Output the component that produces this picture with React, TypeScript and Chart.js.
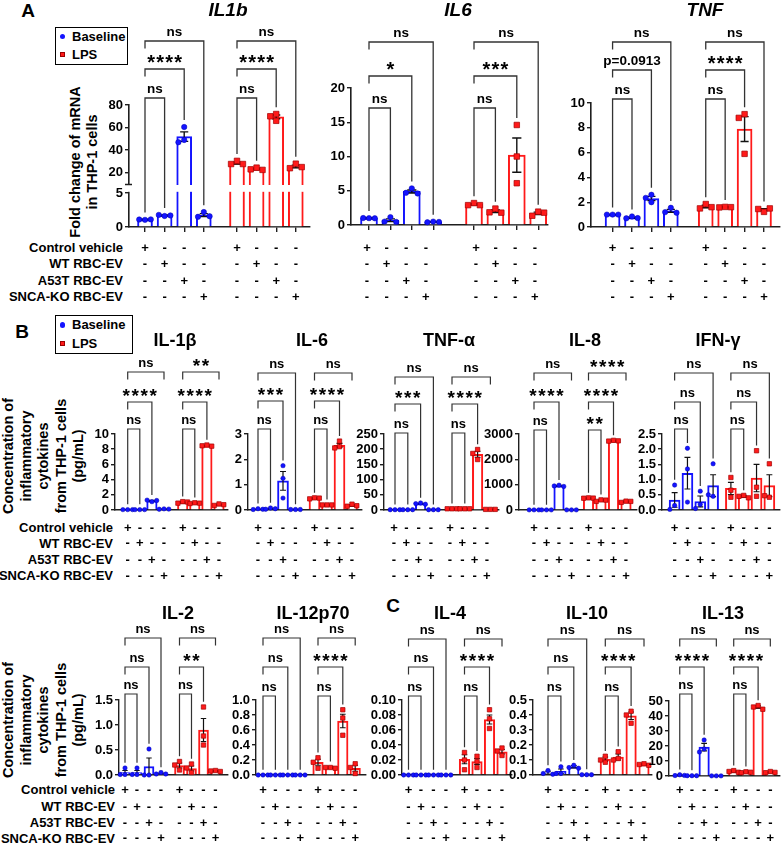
import React, { useEffect, useRef } from 'react';
import { Chart, registerables, LinearScale } from 'chart.js';

Chart.register(...registerables);

const FONT = '"Liberation Sans", Arial, Helvetica, sans-serif';
const BLUE = '#1414ff';
const RED = '#ff1a1a';
const INK = '#1e1e1e';

const TREATMENTS = ['Control vehicle', 'WT RBC-EV', 'A53T RBC-EV', 'SNCA-KO RBC-EV'];
const GROUPS = ['Baseline', 'LPS'];

// ---------- Panel A (order: Baseline x4, LPS x4) ----------
const A_IL1B_MEAN = [1.1, 1.7, 52, 1.75, 28.5, 23.5, 69.5, 25.5];
const A_IL1B_SEM = [0.03, 0.06, 4.2, 0.22, 0.9, 0.6, 1.7, 1.2];
const A_IL1B_PTS = [[1.05, 1.1, 1.12], [1.62, 1.78, 1.7], [60.5, 49, 47], [2.2, 1.5, 1.58], [30.5, 27.7, 27.7], [24.5, 23, 22.5], [72, 70, 66], [28, 24, 25]];
const A_IL1B_SIG = ['ns', '****', 'ns', 'ns', '****', 'ns'];
const A_IL1B_TICKS = [0, 5, 20, 40, 60, 80];

const A_IL6_MEAN = [1.0, 0.7, 4.9, 0.45, 3.0, 2.0, 10.2, 1.7];
const A_IL6_SEM = [0.05, 0.2, 0.22, 0.05, 0.1, 0.2, 2.5, 0.18];
const A_IL6_PTS = [[1.0, 1.02, 0.98], [1.15, 0.5, 0.45], [5.35, 4.7, 4.6], [0.5, 0.4, 0.45], [3.2, 2.9, 2.9], [2.4, 1.85, 1.8], [14.6, 10.0, 6.1], [1.95, 1.35, 1.8]];
const A_IL6_SIG = ['ns', '*', 'ns', 'ns', '***', 'ns'];
const A_IL6_TICKS = [0, 5, 10, 15, 20];

const A_TNF_MEAN = [1.0, 0.75, 2.3, 1.3, 1.65, 1.6, 7.9, 1.4];
const A_TNF_SEM = [0.02, 0.05, 0.17, 0.12, 0.1, 0.03, 1.0, 0.08];
const A_TNF_PTS = [[1.0, 1.0, 1.0], [0.85, 0.7, 0.72], [2.6, 2.35, 2.0], [1.55, 1.2, 1.15], [1.85, 1.5, 1.6], [1.62, 1.58, 1.6], [9.1, 8.8, 5.9], [1.22, 1.45, 1.5]];
const A_TNF_SIG = ['ns', 'p=0.0913', 'ns', 'ns', '****', 'ns'];
const A_TNF_TICKS = [0, 2, 4, 6, 8, 10];

// ---------- Panel B ----------
const B_IL1B_MEAN = [0.05, 0.05, 1.2, 0.12, 1.0, 0.9, 8.45, 0.7];
const B_IL1B_SEM = [0.01, 0.01, 0.06, 0.02, 0.07, 0.05, 0.06, 0.06];
const B_IL1B_PTS = [[0.05, 0.05, 0.05], [0.05, 0.05, 0.05], [1.1, 1.3, 1.25], [0.15, 0.1, 0.12], [1.1, 0.9, 1.05], [0.95, 0.85, 0.9], [8.55, 8.45, 8.4], [0.8, 0.6, 0.7]];
const B_IL1B_SIG = ['ns', '****', 'ns', '**', '****', 'ns'];
const B_IL1B_TICKS = [0, 2, 4, 6, 8, 10];

const B_IL6_MEAN = [0.03, 0.05, 1.15, 0.02, 0.46, 0.2, 2.55, 0.18];
const B_IL6_SEM = [0.01, 0.02, 0.37, 0.005, 0.02, 0.01, 0.08, 0.03];
const B_IL6_PTS = [[0.05, 0.02, 0.03], [0.08, 0.03, 0.05], [1.75, 1.25, 0.47], [0.02, 0.02, 0.02], [0.48, 0.44, 0.47], [0.2, 0.2, 0.2], [2.72, 2.5, 2.45], [0.23, 0.15, 0.17]];
const B_IL6_SIG = ['ns', '***', 'ns', 'ns', '****', 'ns'];
const B_IL6_TICKS = [0, 1, 2, 3];

const B_TNFA_MEAN = [1, 1, 21, 1, 4, 4, 183, 2];
const B_TNFA_SEM = [0.2, 0.2, 1.2, 0.2, 0.3, 0.3, 10, 0.2];
const B_TNFA_PTS = [[1, 1, 1], [1, 1, 1], [23, 21, 19], [1, 1, 1], [4, 4, 4], [4, 4, 4], [199, 186, 166], [2, 2, 2]];
const B_TNFA_SIG = ['ns', '***', 'ns', 'ns', '****', 'ns'];
const B_TNFA_TICKS = [0, 50, 100, 150, 200, 250];

const B_IL8_MEAN = [5, 5, 950, 5, 470, 380, 2730, 330];
const B_IL8_SEM = [1, 1, 20, 1, 10, 25, 15, 20];
const B_IL8_PTS = [[5, 5, 5], [5, 5, 5], [980, 950, 930], [5, 5, 5], [480, 465, 470], [400, 340, 390], [2750, 2720, 2730], [350, 300, 340]];
const B_IL8_SIG = ['ns', '****', 'ns', '****', '****', '**'];
const B_IL8_TICKS = [0, 1000, 2000, 3000];

const B_IFNG_MEAN = [0.33, 1.21, 0.28, 0.8, 0.71, 0.45, 1.05, 0.8];
const B_IFNG_SEM = [0.24, 0.52, 0.18, 0.36, 0.2, 0.03, 0.45, 0.36];
const B_IFNG_PTS = [[0.82, 0.15, 0.02], [2.03, 1.35, 0.26], [0.62, 0.18, 0.05], [1.52, 0.45, 0.5], [1.07, 0.65, 0.42], [0.48, 0.45, 0.4], [1.95, 0.75, 0.45], [1.52, 0.42, 0.47]];
const B_IFNG_SIG = ['ns', 'ns', 'ns', 'ns', 'ns', 'ns'];
const B_IFNG_TICKS = [0, 0.5, 1, 1.5, 2, 2.5];

const B_IL2_MEAN = [0.05, 0.05, 0.17, 0.03, 0.19, 0.13, 0.9, 0.08];
const B_IL2_SEM = [0.04, 0.04, 0.17, 0.01, 0.05, 0.05, 0.23, 0.01];
const B_IL2_PTS = [[0.14, 0.01, 0.01], [0.14, 0.01, 0.01], [0.52, 0.0, 0.0], [0.05, 0.02, 0.02], [0.27, 0.2, 0.1], [0.22, 0.14, 0.05], [1.36, 0.78, 0.6], [0.09, 0.08, 0.07]];
const B_IL2_SIG = ['ns', 'ns', 'ns', 'ns', '**', 'ns'];
const B_IL2_TICKS = [0, 0.5, 1, 1.5];

const B_IL12_MEAN = [0, 0, 0, 0, 0.17, 0.1, 0.72, 0.09];
const B_IL12_SEM = [0, 0, 0, 0, 0.04, 0.01, 0.09, 0.04];
const B_IL12_PTS = [[0, 0, 0], [0, 0, 0], [0, 0, 0], [0, 0, 0], [0.23, 0.17, 0.09], [0.1, 0.1, 0.09], [0.87, 0.76, 0.53], [0.15, 0.1, 0.02]];
const B_IL12_SIG = ['ns', 'ns', 'ns', 'ns', '****', 'ns'];
const B_IL12_TICKS = [0, 0.2, 0.4, 0.6, 0.8, 1.0];

// ---------- Panel C ----------
const C_IL4_MEAN = [0, 0, 0, 0, 0.021, 0.018, 0.074, 0.031];
const C_IL4_SEM = [0, 0, 0, 0, 0.006, 0.004, 0.006, 0.003];
const C_IL4_PTS = [[0, 0, 0], [0, 0, 0], [0, 0, 0], [0, 0, 0], [0.03, 0.02, 0.007], [0.025, 0.018, 0.01], [0.087, 0.075, 0.062], [0.036, 0.032, 0.026]];
const C_IL4_SIG = ['ns', 'ns', 'ns', 'ns', '****', 'ns'];
const C_IL4_TICKS = [0, 0.02, 0.04, 0.06, 0.08, 0.1];

const C_IL10_MEAN = [0.015, 0.025, 0.055, 0.002, 0.105, 0.12, 0.395, 0.07];
const C_IL10_SEM = [0.01, 0.015, 0.008, 0.001, 0.015, 0.02, 0.025, 0.004];
const C_IL10_PTS = [[0.03, 0.01, 0.005], [0.055, 0.01, 0.01], [0.065, 0.05, 0.045], [0.002, 0.002, 0.002], [0.125, 0.1, 0.085], [0.155, 0.11, 0.1], [0.425, 0.4, 0.345], [0.075, 0.07, 0.065]];
const C_IL10_SIG = ['ns', 'ns', 'ns', 'ns', '****', 'ns'];
const C_IL10_TICKS = [0, 0.1, 0.2, 0.3, 0.4, 0.5];

const C_IL13_MEAN = [0.5, 0.2, 19.3, 0.1, 3, 2.5, 46, 2.5];
const C_IL13_SEM = [0.2, 0.1, 2.5, 0.05, 0.4, 0.3, 0.8, 0.3];
const C_IL13_PTS = [[0.8, 0.3, 0.4], [0.2, 0.2, 0.2], [24, 18, 16], [0.1, 0.1, 0.1], [3.6, 3, 2.5], [2.8, 2.2, 2.5], [47, 46, 44.5], [3, 2.2, 2.4]];
const C_IL13_SIG = ['ns', '****', 'ns', 'ns', '****', 'ns'];
const C_IL13_TICKS = [0, 10, 20, 30, 40, 50];

// ---------- broken y axis for IL1b ----------
const IL1B_BREAK = { lo: 5, hi: 10, max: 80, fLo: 34 / 122, fGap: 9 / 122 };
function brokenFrac(v: number) {
  const b = IL1B_BREAK;
  if (v <= b.lo) return (v / b.lo) * b.fLo;
  if (v >= b.hi) return b.fLo + b.fGap + ((v - b.hi) / (b.max - b.hi)) * (1 - b.fLo - b.fGap);
  return b.fLo + ((v - b.lo) / (b.hi - b.lo)) * b.fGap;
}

class BrokenLinearScale extends LinearScale {
  static id = 'brokenLinear';
  static defaults = LinearScale.defaults;
  getPixelForValue(value: any) {
    if (value === null || value === undefined || isNaN(value)) return NaN;
    return this.getPixelForDecimal(brokenFrac(value));
  }
}
Chart.register(BrokenLinearScale as any);

// ---------- layout ----------
type Row = { canvasTop: number; canvasH: number; rowsY: number[]; big: boolean };
const ROW_A: Row = { canvasTop: 0, canvasH: 312, rowsY: [248, 264, 281, 297], big: true };
const ROW_B1: Row = { canvasTop: 325, canvasH: 262, rowsY: [528, 543.5, 560, 576], big: false };
const ROW_B2: Row = { canvasTop: 596, canvasH: 248, rowsY: [790, 807, 823, 838.5], big: false };

type Spec = {
  title: string; italic?: boolean; titleX: number; titleY: number;
  mean: number[]; sem: number[]; pts: number[][]; sig: string[]; ticks: number[]; dec: number;
  broken?: boolean;
  axisX: number; axisEnd: number; b0: number; step: number; r0: number; barW: number;
  top: number; bottom: number; brY: number[]; longTop: boolean[];
  tx?: { b0: number; step: number; r0: number };
  row: Row;
};

const SPECS: Spec[] = [
  { title: 'IL1b', italic: true, titleX: 228, titleY: 11, mean: A_IL1B_MEAN, sem: A_IL1B_SEM, pts: A_IL1B_PTS, sig: A_IL1B_SIG, ticks: A_IL1B_TICKS, dec: 0, broken: true,
    axisX: 129, axisEnd: 310, b0: 145, step: 19.6, r0: 237, barW: 15, top: 105, bottom: 227, brY: [41, 69, 98], longTop: [true, true], row: ROW_A },
  { title: 'IL6', italic: true, titleX: 458, titleY: 11, mean: A_IL6_MEAN, sem: A_IL6_SEM, pts: A_IL6_PTS, sig: A_IL6_SIG, ticks: A_IL6_TICKS, dec: 0,
    axisX: 351, axisEnd: 548, b0: 369, step: 21.4, r0: 474, barW: 17, top: 88, bottom: 225, brY: [42, 76, 108], longTop: [true, true],
    tx: { b0: 367, step: 19.6, r0: 476 }, row: ROW_A },
  { title: 'TNF', italic: true, titleX: 705, titleY: 11, mean: A_TNF_MEAN, sem: A_TNF_SEM, pts: A_TNF_PTS, sig: A_TNF_SIG, ticks: A_TNF_TICKS, dec: 0,
    axisX: 591, axisEnd: 783, b0: 613, step: 19.8, r0: 708, barW: 15, top: 103, bottom: 227, brY: [42, 70, 99], longTop: [true, true], row: ROW_A },

  { title: 'IL-1β', titleX: 175, titleY: 341, mean: B_IL1B_MEAN, sem: B_IL1B_SEM, pts: B_IL1B_PTS, sig: B_IL1B_SIG, ticks: B_IL1B_TICKS, dec: 0,
    axisX: 115, axisEnd: 228, b0: 127.7, step: 12.1, r0: 182.7, barW: 10.5, top: 434, bottom: 510, brY: [372, 402, 429], longTop: [false, false], row: ROW_B1 },
  { title: 'IL-6', titleX: 312, titleY: 341, mean: B_IL6_MEAN, sem: B_IL6_SEM, pts: B_IL6_PTS, sig: B_IL6_SIG, ticks: B_IL6_TICKS, dec: 0,
    axisX: 248, axisEnd: 362, b0: 258, step: 12.5, r0: 314.5, barW: 11, top: 434, bottom: 510, brY: [373, 401, 429], longTop: [true, false], row: ROW_B1 },
  { title: 'TNF-α', titleX: 449, titleY: 341, mean: B_TNFA_MEAN, sem: B_TNFA_SEM, pts: B_TNFA_PTS, sig: B_TNFA_SIG, ticks: B_TNFA_TICKS, dec: 0,
    axisX: 384, axisEnd: 499, b0: 395, step: 12.8, r0: 452, barW: 10.5, top: 434, bottom: 510, brY: [377, 404, 433], longTop: [true, false],
    tx: { b0: 394, step: 12.3, r0: 450 }, row: ROW_B1 },
  { title: 'IL-8', titleX: 585, titleY: 341, mean: B_IL8_MEAN, sem: B_IL8_SEM, pts: B_IL8_PTS, sig: B_IL8_SIG, ticks: B_IL8_TICKS, dec: 0,
    axisX: 519, axisEnd: 637, b0: 534, step: 12.5, r0: 588.5, barW: 10.5, top: 434, bottom: 510, brY: [373, 402, 430], longTop: [false, false], row: ROW_B1 },
  { title: 'IFN-γ', titleX: 718, titleY: 341, mean: B_IFNG_MEAN, sem: B_IFNG_SEM, pts: B_IFNG_PTS, sig: B_IFNG_SIG, ticks: B_IFNG_TICKS, dec: 1,
    axisX: 662, axisEnd: 780, b0: 674.7, step: 12.9, r0: 731.3, barW: 11, top: 434, bottom: 510, brY: [373, 402, 429], longTop: [true, true], row: ROW_B1 },

  { title: 'IL-2', titleX: 178, titleY: 614, mean: B_IL2_MEAN, sem: B_IL2_SEM, pts: B_IL2_PTS, sig: B_IL2_SIG, ticks: B_IL2_TICKS, dec: 1,
    axisX: 119, axisEnd: 228, b0: 125, step: 12, r0: 179.5, barW: 10, top: 700, bottom: 775, brY: [638, 667, 694], longTop: [true, false], row: ROW_B2 },
  { title: 'IL-12p70', titleX: 313, titleY: 614, mean: B_IL12_MEAN, sem: B_IL12_SEM, pts: B_IL12_PTS, sig: B_IL12_SIG, ticks: B_IL12_TICKS, dec: 1,
    axisX: 256, axisEnd: 366, b0: 263, step: 12.4, r0: 318, barW: 10.5, top: 700, bottom: 775, brY: [638, 667, 696], longTop: [true, false], row: ROW_B2 },
  { title: 'IL-4', titleX: 450, titleY: 614, mean: C_IL4_MEAN, sem: C_IL4_SEM, pts: C_IL4_PTS, sig: C_IL4_SIG, ticks: C_IL4_TICKS, dec: 2,
    axisX: 402, axisEnd: 512, b0: 408.5, step: 12.5, r0: 464.5, barW: 10.5, top: 700, bottom: 775, brY: [639, 667, 696], longTop: [true, false], row: ROW_B2 },
  { title: 'IL-10', titleX: 587, titleY: 614, mean: C_IL10_MEAN, sem: C_IL10_SEM, pts: C_IL10_PTS, sig: C_IL10_SIG, ticks: C_IL10_TICKS, dec: 1,
    axisX: 533, axisEnd: 652, b0: 548, step: 12.9, r0: 605.3, barW: 10.5, top: 700, bottom: 775, brY: [639, 667, 696], longTop: [true, false], row: ROW_B2 },
  { title: 'IL-13', titleX: 723, titleY: 614, mean: C_IL13_MEAN, sem: C_IL13_SEM, pts: C_IL13_PTS, sig: C_IL13_SIG, ticks: C_IL13_TICKS, dec: 0,
    axisX: 669, axisEnd: 782, b0: 680, step: 12.5, r0: 735.3, barW: 10.5, top: 701, bottom: 776, brY: [639, 667, 694], longTop: [false, false], row: ROW_B2 },
];

function valPx(s: Spec, v: number) {
  const H = s.bottom - s.top;
  const f = s.broken ? brokenFrac(v) : v / s.ticks[s.ticks.length - 1];
  return s.bottom - f * H;
}

function swarm(s: Spec, vals: number[], d: number) {
  const placed: { o: number; y: number }[] = [];
  const offs = vals.map(() => 0);
  vals.forEach((v, k) => {
    const y = valPx(s, v);
    for (const o of [0, -d, d, -2 * d, 2 * d]) {
      if (placed.every((p) => Math.hypot(p.o - o, p.y - y) >= d * 0.95)) {
        offs[k] = o;
        placed.push({ o, y });
        break;
      }
    }
  });
  return offs;
}

function drawSig(ctx: CanvasRenderingContext2D, label: string, cx: number, y: number, big: boolean) {
  ctx.fillStyle = '#000';
  if (/^\*+$/.test(label)) {
    ctx.font = `bold ${big ? 20 : 19}px ${FONT}`;
    ctx.textAlign = 'center';
    ctx.textBaseline = 'alphabetic';
    const m = ctx.measureText('*');
    const base = y - 10 - (m.actualBoundingBoxDescent - m.actualBoundingBoxAscent) / 2;
    const sp = 9;
    const n = label.length;
    for (let k = 0; k < n; k++) ctx.fillText('*', cx - ((n - 1) * sp) / 2 + k * sp, base);
  } else {
    ctx.font = `bold ${big ? 13.5 : 13}px ${FONT}`;
    ctx.textAlign = 'center';
    ctx.textBaseline = 'alphabetic';
    ctx.fillText(label, cx, y - 5.5);
  }
}

function makeChart(canvas: HTMLCanvasElement, s: Spec) {
  const big = s.row.big;
  const xs = [0, 1, 2, 3].concat([0, 1, 2, 3].map((i) => (s.r0 - s.b0) / s.step + i));
  const ymax = s.ticks[s.ticks.length - 1];
  const xmin = -(s.b0 - s.axisX) / s.step;
  const xmax = xmin + (s.axisEnd - s.axisX) / s.step;
  const dotR = big ? 2.7 : 2.2;
  const sqR = big ? 3.9 : 3.1;
  const ct = s.row.canvasTop;
  const cl = s.axisX - 50;
  const H = s.row.canvasH;
  const pr = Math.min(12, 784 - s.axisEnd);

  const blueDots: { x: number; y: number }[] = [];
  const redDots: { x: number; y: number }[] = [];
  for (let i = 0; i < 8; i++) {
    const d = i < 4 ? 2 * dotR + 0.4 : 2 * sqR * Math.SQRT1_2 + 0.4;
    const offs = swarm(s, s.pts[i], d);
    s.pts[i].forEach((v, k) => (i < 4 ? blueDots : redDots).push({ x: xs[i] + offs[k] / s.step, y: v }));
  }

  const deco = {
    id: 'deco',
    afterDatasetDraw(chart: any, args: any) {
      if (args.meta.type !== 'bar') return;
      const ctx = chart.ctx as CanvasRenderingContext2D;
      const xS = chart.scales.x;
      const yS = chart.scales.y;
      const ca = chart.chartArea;
      ctx.save();
      if (s.broken) {
        const yHi = yS.getPixelForValue(IL1B_BREAK.hi);
        const yLo = yS.getPixelForValue(IL1B_BREAK.lo);
        ctx.fillStyle = '#fff';
        ctx.fillRect(ca.left - 2, yHi + 1, ca.right - ca.left + 4, yLo - yHi - 2.2);
        ctx.strokeStyle = INK;
        ctx.lineWidth = 1.5;
        ctx.beginPath();
        ctx.moveTo(ca.left - 4, yHi + 0.5);
        ctx.lineTo(ca.left + 3, yHi + 0.5);
        ctx.stroke();
      }
      ctx.strokeStyle = '#111';
      ctx.lineWidth = big ? 1.4 : 1.2;
      for (let i = 0; i < 8; i++) {
        if (s.sem[i] <= 0) continue;
        const px = xS.getPixelForValue(xs[i]);
        const lo = yS.getPixelForValue(Math.max(0, s.mean[i] - s.sem[i]));
        const hi = yS.getPixelForValue(s.mean[i] + s.sem[i]);
        const cw = s.barW * 0.27;
        ctx.beginPath();
        ctx.moveTo(px, lo);
        ctx.lineTo(px, hi);
        ctx.moveTo(px - cw, hi);
        ctx.lineTo(px + cw, hi);
        ctx.moveTo(px - cw, lo);
        ctx.lineTo(px + cw, lo);
        ctx.stroke();
      }
      ctx.restore();
    },
    afterDraw(chart: any) {
      const ctx = chart.ctx as CanvasRenderingContext2D;
      const xS = chart.scales.x;
      const yS = chart.scales.y;
      const px = (i: number) => xS.getPixelForValue(xs[i]);
      const dataTop = (i: number) => {
        const m = Math.max(s.mean[i] + s.sem[i], ...s.pts[i]);
        return yS.getPixelForValue(m) - (big ? sqR : dotR) - 3;
      };
      ctx.save();
      // significance brackets
      ctx.strokeStyle = '#333';
      ctx.lineWidth = big ? 1.3 : 1.2;
      for (const g of [0, 1]) {
        const base = g * 4;
        for (const lv of [0, 1, 2]) {
          const target = base + 3 - lv;
          const y = s.brY[lv] - ct;
          const x1 = px(base);
          const x2 = px(target);
          const short = 7.5;
          const yL = lv === 2 ? dataTop(base) : y + short;
          const yR = lv === 0 && !s.longTop[g] ? y + short : dataTop(target);
          ctx.beginPath();
          ctx.moveTo(x1, yL);
          ctx.lineTo(x1, y);
          ctx.lineTo(x2, y);
          ctx.lineTo(x2, yR);
          ctx.stroke();
          drawSig(ctx, s.sig[g * 3 + lv], (x1 + x2) / 2, y, big);
        }
      }
      // treatment table
      ctx.fillStyle = '#000';
      ctx.font = `bold 13px ${FONT}`;
      ctx.textAlign = 'center';
      ctx.textBaseline = 'middle';
      for (let i = 0; i < 8; i++) {
        const tx = s.tx ? (i < 4 ? s.tx.b0 + i * s.tx.step : s.tx.r0 + (i - 4) * s.tx.step) - cl : px(i);
        TREATMENTS.forEach((_, r) => {
          ctx.fillText(i % 4 === r ? '+' : '-', tx, s.row.rowsY[r] - ct);
        });
      }
      // title
      ctx.font = s.italic ? `italic bold 19px ${FONT}` : `bold 18px ${FONT}`;
      ctx.fillText(s.title, s.titleX - cl, s.titleY - ct);
      ctx.restore();
    },
  };

  const axisColor = INK;
  return new Chart(canvas, {
    type: 'bar',
    data: {
      datasets: [
        {
          type: 'bar',
          data: xs.map((x, i) => ({ x, y: s.mean[i] })),
          backgroundColor: '#ffffff',
          borderColor: xs.map((_, i) => (i < 4 ? BLUE : RED)),
          borderWidth: 2,
          borderSkipped: 'start',
          barThickness: s.barW,
          order: 2,
          clip: false,
        } as any,
        {
          type: 'scatter',
          label: GROUPS[0],
          data: blueDots,
          pointStyle: 'circle',
          pointRadius: dotR,
          backgroundColor: BLUE,
          borderColor: '#0000b0',
          borderWidth: 0.5,
          order: 1,
          clip: false,
        } as any,
        {
          type: 'scatter',
          label: GROUPS[1],
          data: redDots,
          pointStyle: 'rect',
          pointRadius: sqR,
          backgroundColor: RED,
          borderColor: '#a00000',
          borderWidth: 0.7,
          order: 1,
          clip: false,
        } as any,
      ],
    },
    options: {
      responsive: false,
      maintainAspectRatio: false,
      animation: false,
      events: [],
      layout: { padding: { left: 0, right: pr, top: s.top - ct, bottom: H - 6 - (s.bottom - ct) } },
      plugins: { legend: { display: false }, tooltip: { enabled: false }, title: { display: false } },
      scales: {
        x: {
          type: 'linear',
          min: xmin,
          max: xmax,
          offset: false,
          bounds: 'data',
          afterBuildTicks: (sc: any) => {
            sc.ticks = xs.map((v) => ({ value: v }));
          },
          afterFit: (sc: any) => {
            sc.height = 6;
          },
          ticks: { display: false, autoSkip: false },
          grid: { display: true, offset: false, drawOnChartArea: false, drawTicks: big, tickLength: 5, color: axisColor, lineWidth: 1.4 },
          border: { display: true, color: axisColor, width: big ? 1.6 : 1.4 },
        },
        y: {
          type: s.broken ? 'brokenLinear' : 'linear',
          min: 0,
          max: ymax,
          bounds: 'data',
          afterBuildTicks: (sc: any) => {
            sc.ticks = s.ticks.map((v) => ({ value: v }));
          },
          afterFit: (sc: any) => {
            sc.width = 50;
          },
          ticks: {
            autoSkip: false,
            callback: (v: any) => Number(v).toFixed(s.dec),
            font: { family: FONT, size: 13, weight: 'bold' },
            color: '#000',
            padding: 2,
          },
          grid: { display: true, drawOnChartArea: false, drawTicks: true, tickLength: 4, color: axisColor, lineWidth: 1.4 },
          border: { display: true, color: axisColor, width: big ? 1.6 : 1.4 },
        } as any,
      },
    } as any,
    plugins: [deco],
  });
}

function ChartCanvas({ spec }: { spec: Spec }) {
  const ref = useRef<HTMLCanvasElement | null>(null);
  const left = spec.axisX - 50;
  const width = spec.axisEnd + Math.min(12, 784 - spec.axisEnd) - left;
  useEffect(() => {
    const chart = makeChart(ref.current as HTMLCanvasElement, spec);
    return () => chart.destroy();
  }, []);
  return (
    <canvas
      ref={ref}
      width={width}
      height={spec.row.canvasH}
      style={{ position: 'absolute', left, top: spec.row.canvasTop, width, height: spec.row.canvasH }}
    />
  );
}

function CText({ x, y, text, size, italic }: { x: number; y: number; text: string; size: number; italic?: boolean }) {
  return (
    <div
      style={{
        position: 'absolute', left: x, top: y, transform: 'translate(-50%,-50%)',
        font: `${italic ? 'italic ' : ''}bold ${size}px ${FONT}`, lineHeight: 1, whiteSpace: 'nowrap', color: '#000',
      }}
    >
      {text}
    </div>
  );
}

function VTitle({ x, y, lines, size, lh }: { x: number; y: number; lines: string[]; size: number; lh: number }) {
  return (
    <div
      style={{
        position: 'absolute', left: x, top: y, transform: 'translate(-50%,-50%) rotate(-90deg)',
        font: `bold ${size}px ${FONT}`, lineHeight: `${lh}px`, whiteSpace: 'pre', textAlign: 'center', color: '#000',
      }}
    >
      {lines.join('\n')}
    </div>
  );
}

function RowLabels({ right, ys }: { right: number; ys: number[] }) {
  return (
    <>
      {TREATMENTS.map((t, r) => (
        <div
          key={t}
          style={{
            position: 'absolute', left: right - 220, width: 220, top: ys[r] - 8, height: 16, lineHeight: '16px',
            textAlign: 'right', font: `bold 13px ${FONT}`, color: '#000', whiteSpace: 'nowrap',
          }}
        >
          {t}
        </div>
      ))}
    </>
  );
}

function Legend({ left, top, w, h, y1, y2 }: { left: number; top: number; w: number; h: number; y1: number; y2: number }) {
  const item = (y: number, label: string, round: boolean, color: string) => (
    <>
      <div style={{ position: 'absolute', left: 60, top: y - 2.7, width: 5.4, height: 5.4, borderRadius: round ? '50%' : 0, background: color, border: round ? 'none' : '0.6px solid #900', boxSizing: 'border-box' }} />
      <div style={{ position: 'absolute', left: 72, top: y - 8, height: 16, lineHeight: '16px', font: `bold 13px ${FONT}`, color: '#000', whiteSpace: 'nowrap' }}>{label}</div>
    </>
  );
  return (
    <>
      <div style={{ position: 'absolute', left, top, width: w, height: h, border: '1.5px solid #000', boxSizing: 'border-box' }} />
      {item(y1, GROUPS[0], true, BLUE)}
      {item(y2, GROUPS[1], false, RED)}
    </>
  );
}

export default function App() {
  return (
    <div style={{ position: 'absolute', left: 0, top: 0, width: 784, height: 844, overflow: 'hidden', background: '#fff', fontFamily: FONT }}>
      <CText x={28} y={10} text="A" size={19} />
      <CText x={22} y={331} text="B" size={19} />
      <CText x={393} y={605} text="C" size={19} />
      <Legend left={55} top={27} w={73} h={38} y1={36.7} y2={54.5} />
      <Legend left={55} top={315} w={78} h={38.5} y1={325} y2={343.5} />
      <VTitle x={83.5} y={162} lines={['Fold change of mRNA', 'in THP-1 cells']} size={14.5} lh={17} />
      <VTitle x={43.5} y={456} lines={['Concentration of', 'inflammatory', 'cytokines', 'from THP-1 cells', '(pg/mL)']} size={14.5} lh={17.5} />
      <VTitle x={43.5} y={720} lines={['Concentration of', 'inflammatory', 'cytokines', 'from THP-1 cells', '(pg/mL)']} size={14.5} lh={17.5} />
      <RowLabels right={123} ys={ROW_A.rowsY} />
      <RowLabels right={113} ys={ROW_B1.rowsY} />
      <RowLabels right={115} ys={ROW_B2.rowsY} />
      {SPECS.map((s) => (
        <ChartCanvas key={s.title} spec={s} />
      ))}
    </div>
  );
}
